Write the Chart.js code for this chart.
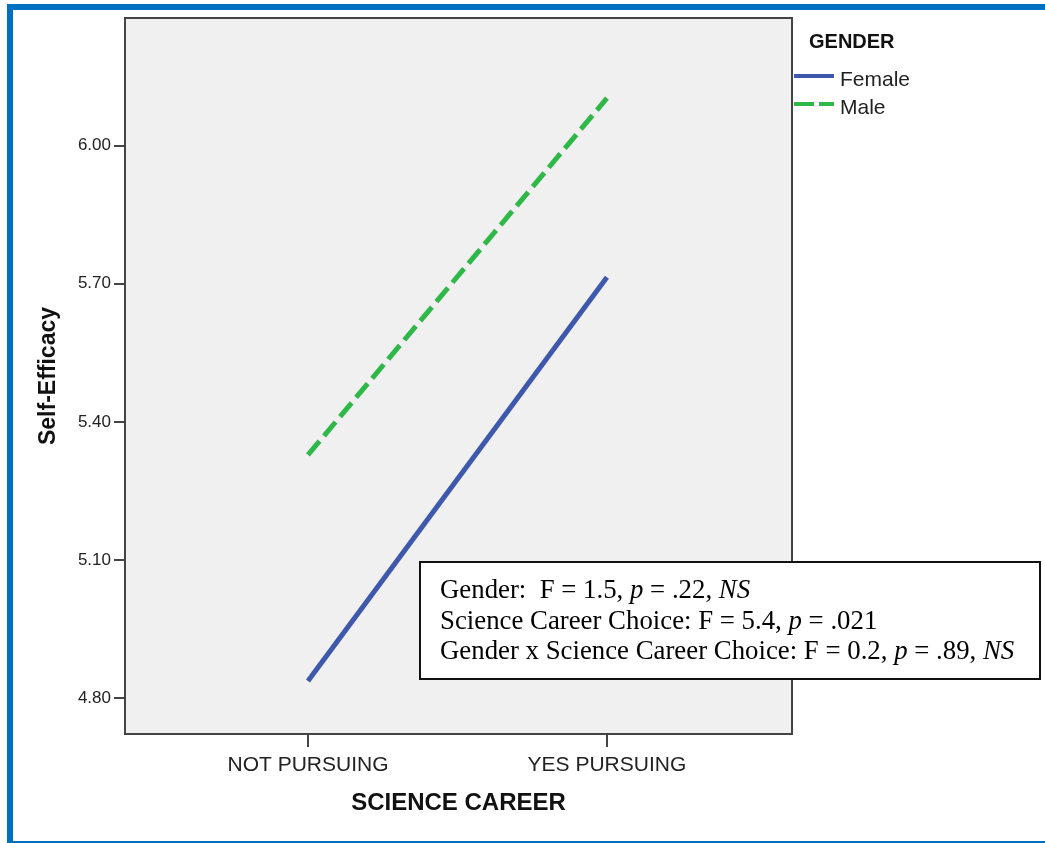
<!DOCTYPE html>
<html><head><meta charset="utf-8">
<script src="https://cdn.jsdelivr.net/npm/chart.js@4.4.0/dist/chart.umd.min.js"></script>
<style>html,body{margin:0;padding:0;background:#fff;} canvas{display:block;}</style>
</head><body>
<canvas id="c" width="1045" height="843"></canvas>
<script>
const categories = ['NOT PURSUING', 'YES PURSUING'];
const seriesNames = ['Female', 'Male'];
const female = [4.837, 5.714];
const male = [5.328, 6.103];
const yTicks = [4.80, 5.10, 5.40, 5.70, 6.00];
const yTickLabels = ['4.80', '5.10', '5.40', '5.70', '6.00'];
const yRange = [4.722, 6.277];
const xRange = [-0.612, 1.619];
const legendTitle = 'GENDER';
const xTitle = 'SCIENCE CAREER';
const yTitle = 'Self-Efficacy';
const statLines = [
  [['Gender:  F = 1.5, ', false], ['p', true], [' = .22, ', false], ['NS', true]],
  [['Science Career Choice: F = 5.4, ', false], ['p', true], [' = .021', false]],
  [['Gender x Science Career Choice: F = 0.2, ', false], ['p', true], [' = .89, ', false], ['NS', true]]
];

const SANS = '"Liberation Sans", Arial, sans-serif';
const SERIF = '"Liberation Serif", "Times New Roman", serif';
Chart.defaults.font.family = SANS;

const decor = {
  id: 'decor',
  beforeDraw(chart) {
    const {ctx, chartArea: a} = chart;
    ctx.save();
    ctx.fillStyle = '#f0f0f0';
    ctx.fillRect(a.left, a.top, a.right - a.left, a.bottom - a.top);
    ctx.fillStyle = '#0070c0';
    ctx.fillRect(7, 4, 1045 - 7, 6);
    ctx.fillRect(7, 4, 6, 843 - 4);
    ctx.fillRect(7, 841, 1045 - 7, 2);
    ctx.restore();
  },
  afterDraw(chart) {
    const {ctx, chartArea: a} = chart;
    ctx.save();
    // plot frame
    ctx.strokeStyle = '#444';
    ctx.lineWidth = 2;
    ctx.strokeRect(a.left, a.top, a.right - a.left, a.bottom - a.top);
    // legend
    ctx.fillStyle = '#111';
    ctx.textBaseline = 'alphabetic';
    ctx.textAlign = 'left';
    ctx.font = 'bold 20px ' + SANS;
    ctx.fillText(legendTitle, 809, 48);
    const ly = [76, 104];
    const ty = [86, 114];
    chart.data.datasets.forEach((ds, i) => {
      ctx.strokeStyle = ds.borderColor;
      ctx.lineWidth = 4;
      ctx.setLineDash(ds.borderDash && ds.borderDash.length ? [20, 5] : []);
      ctx.beginPath();
      ctx.moveTo(794, ly[i]);
      ctx.lineTo(834, ly[i]);
      ctx.stroke();
      ctx.setLineDash([]);
      ctx.fillStyle = '#222';
      ctx.font = '21px ' + SANS;
      ctx.fillText(ds.label, 840, ty[i]);
    });
    // stats box
    ctx.fillStyle = '#fff';
    ctx.fillRect(420, 562, 620, 117);
    ctx.strokeStyle = '#111';
    ctx.lineWidth = 2;
    ctx.strokeRect(420, 562, 620, 117);
    ctx.fillStyle = '#000';
    const bl = [598, 629, 659];
    statLines.forEach((segs, i) => {
      let x = 440;
      segs.forEach(([t, it]) => {
        ctx.font = (it ? 'italic ' : '') + '26.8px ' + SERIF;
        ctx.fillText(t, x, bl[i]);
        x += ctx.measureText(t).width;
      });
    });
    ctx.restore();
  }
};

new Chart(document.getElementById('c'), {
  type: 'line',
  data: {
    datasets: [
      { label: seriesNames[0], data: female.map((v, i) => ({x: i, y: v})),
        borderColor: '#3e58ac', borderWidth: 5, borderCapStyle: 'butt', pointRadius: 0, tension: 0, fill: false },
      { label: seriesNames[1], data: male.map((v, i) => ({x: i, y: v})),
        borderColor: '#2eb848', borderWidth: 5, borderCapStyle: 'butt', borderDash: [18, 7], pointRadius: 0, tension: 0, fill: false }
    ]
  },
  options: {
    responsive: false,
    animation: false,
    layout: { padding: { top: 18, right: 253, left: 0, bottom: 0 } },
    plugins: { legend: { display: false }, tooltip: { enabled: false } },
    scales: {
      x: {
        type: 'linear', min: xRange[0], max: xRange[1],
        afterBuildTicks: s => { s.ticks = categories.map((c, i) => ({value: i})); },
        ticks: { callback: v => categories[v] ?? '', font: {size: 21}, color: '#222', padding: 6, maxRotation: 0, autoSkip: false },
        grid: { drawOnChartArea: false, drawTicks: true, tickLength: 13, color: '#444', lineWidth: 2 },
        border: { display: false },
        title: { display: true, text: xTitle, font: {size: 24, weight: 'bold'}, color: '#111', padding: {top: 0, bottom: 25} },
        afterFit: s => { s.height = 109; }
      },
      y: {
        min: yRange[0], max: yRange[1],
        afterBuildTicks: s => { s.ticks = yTicks.map(v => ({value: v})); },
        ticks: { callback: (v, i) => yTickLabels[i], font: {size: 17}, color: '#222', padding: 3 },
        grid: { drawOnChartArea: false, drawTicks: true, tickLength: 11, color: '#444', lineWidth: 2 },
        border: { display: false },
        title: { display: true, text: yTitle, font: {size: 23, weight: 'bold'}, color: '#111', padding: {top: 35, bottom: 0} },
        afterFit: s => { s.width = 125; }
      }
    }
  },
  plugins: [decor]
});
</script>
</body></html>
